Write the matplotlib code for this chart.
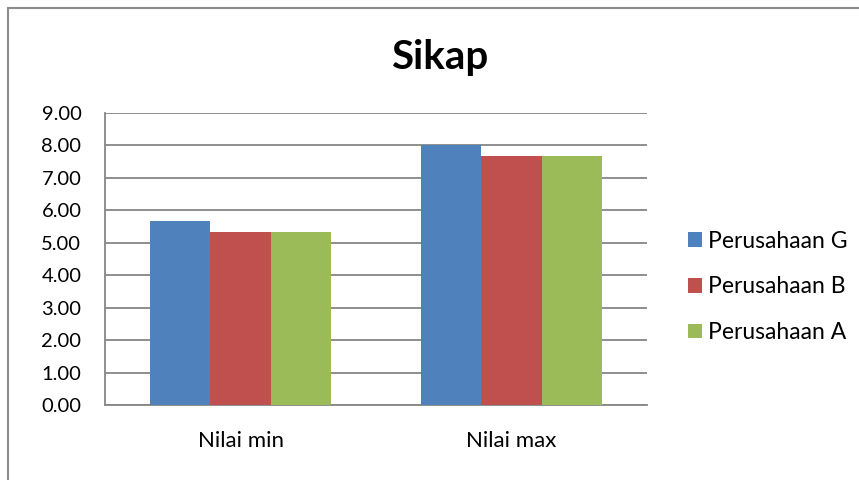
import matplotlib
matplotlib.use("Agg")
import matplotlib.pyplot as plt
from matplotlib.patches import Rectangle
import numpy as np

categories = ["Nilai min", "Nilai max"]
series_names = ["Perusahaan G", "Perusahaan B", "Perusahaan A"]
perusahaan_g = [5.67, 8.00]
perusahaan_b = [5.33, 7.67]
perusahaan_a = [5.33, 7.67]
yticks = [0, 1, 2, 3, 4, 5, 6, 7, 8, 9]
colors = ["#4F81BD", "#C0504D", "#9BBB59"]

plt.rcParams['font.family'] = ['Lato', 'DejaVu Sans']

W, H = 859, 480
fig = plt.figure(figsize=(W / 100, H / 100), dpi=100)
ax = fig.add_axes([105 / W, 1 - 405 / H, (647 - 105) / W, (405 - 113) / H])

# outer chart frame
fig.patches.append(Rectangle((8 / W, -0.1), 1.2, 1 - 8 / H + 0.1,
                             transform=fig.transFigure, fill=False,
                             edgecolor="#8C8C8C", linewidth=1.5, zorder=0))

x = np.arange(len(categories))
bw = 0.223
for i, (vals, name) in enumerate(zip([perusahaan_g, perusahaan_b, perusahaan_a], series_names)):
    ax.bar(x + (i - 1) * bw, vals, width=bw, color=colors[i], label=name, zorder=3)

ax.set_xlim(-0.5, 1.5)
ax.set_ylim(0, 9)
ax.set_yticks(yticks)
ax.set_yticklabels([f"{v:.2f}" for v in yticks], fontsize=14.5)
ax.set_xticks(x)
ax.set_xticklabels(categories, fontsize=16)
ax.tick_params(axis='y', length=0, pad=17)
ax.tick_params(axis='x', length=0, pad=19)
ax.grid(axis='y', color="#868686", linewidth=1.3, zorder=1)
for s in ["top", "right"]:
    ax.spines[s].set_visible(False)
for s in ["left", "bottom"]:
    ax.spines[s].set_color("#868686")
    ax.spines[s].set_linewidth(1.3)

fig.text(440 / W, 1 - 57 / H, "Sikap", fontsize=29, fontweight="bold",
         ha="center", va="center")

leg = fig.legend(loc="upper left", bbox_to_anchor=(667 / W, 1 - 210 / H),
                 frameon=False, fontsize=16.5, handlelength=0.61, handleheight=0.61,
                 handletextpad=0.3, labelspacing=1.08)

fig.savefig("out.png", dpi=100, facecolor="white")
